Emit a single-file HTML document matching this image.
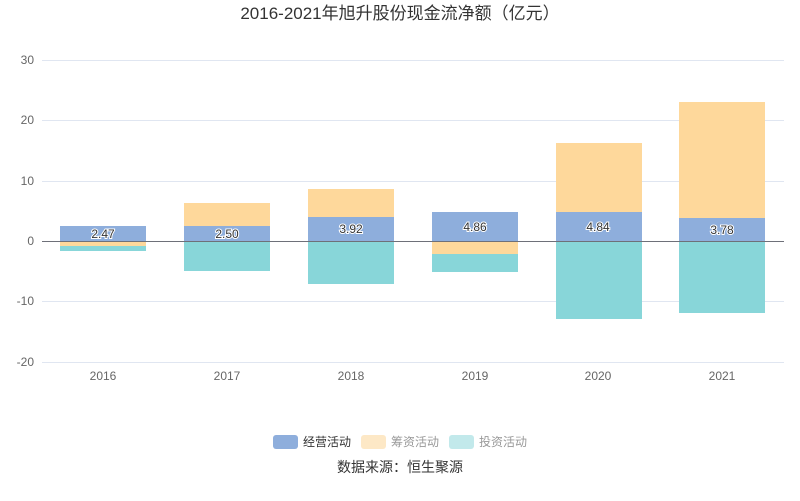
<!DOCTYPE html>
<html><head><meta charset="utf-8"><style>body{margin:0;background:#fff}svg{display:block;font-family:"Liberation Sans","Noto Sans CJK SC",sans-serif}</style></head><body>
<svg width="800" height="501" viewBox="0 0 800 501">
<text x="400" y="19" text-anchor="middle" font-size="17" fill="#333">2016-2021年旭升股份现金流净额（亿元）</text>
<g stroke="#e0e6f1" stroke-width="1">
<line x1="42" x2="784" y1="60.5" y2="60.5"/><line x1="42" x2="784" y1="120.5" y2="120.5"/><line x1="42" x2="784" y1="181.5" y2="181.5"/><line x1="42" x2="784" y1="301.5" y2="301.5"/><line x1="42" x2="784" y1="362.5" y2="362.5"/>
</g>
<g font-size="12" fill="#666" text-anchor="end">
<text x="34" y="64">30</text><text x="34" y="124">20</text><text x="34" y="185">10</text><text x="34" y="245">0</text><text x="34" y="305">-10</text><text x="34" y="366">-20</text>
</g>
<g font-size="12" fill="#666" text-anchor="middle">
<text x="103" y="380">2016</text><text x="227" y="380">2017</text><text x="351" y="380">2018</text><text x="475" y="380">2019</text><text x="598" y="380">2020</text><text x="722" y="380">2021</text>
</g>
<g>
<!-- 2016 -->
<rect x="60" y="226" width="86" height="15" fill="#8eaedc"/>
<rect x="60" y="241" width="86" height="5" fill="#fed89b"/>
<rect x="60" y="246" width="86" height="5" fill="#88d6d9"/>
<!-- 2017 -->
<rect x="184" y="226" width="86" height="15" fill="#8eaedc"/>
<rect x="184" y="203" width="86" height="23" fill="#fed89b"/>
<rect x="184" y="241" width="86" height="30" fill="#88d6d9"/>
<!-- 2018 -->
<rect x="308" y="217" width="86" height="24" fill="#8eaedc"/>
<rect x="308" y="189" width="86" height="28" fill="#fed89b"/>
<rect x="308" y="241" width="86" height="43" fill="#88d6d9"/>
<!-- 2019 -->
<rect x="432" y="212" width="86" height="29" fill="#8eaedc"/>
<rect x="432" y="241" width="86" height="13" fill="#fed89b"/>
<rect x="432" y="254" width="86" height="18" fill="#88d6d9"/>
<!-- 2020 -->
<rect x="556" y="212" width="86" height="29" fill="#8eaedc"/>
<rect x="556" y="143" width="86" height="69" fill="#fed89b"/>
<rect x="556" y="241" width="86" height="78" fill="#88d6d9"/>
<!-- 2021 -->
<rect x="679" y="218" width="86" height="23" fill="#8eaedc"/>
<rect x="679" y="102" width="86" height="116" fill="#fed89b"/>
<rect x="679" y="241" width="86" height="72" fill="#88d6d9"/>
</g>
<line x1="42" x2="784" y1="241.5" y2="241.5" stroke="#6e7079"/>
<g font-size="12" fill="#333" text-anchor="middle" stroke="#fff" stroke-width="2" paint-order="stroke">
<text x="103" y="238">2.47</text><text x="227" y="238">2.50</text><text x="351" y="233">3.92</text><text x="475" y="231">4.86</text><text x="598" y="231">4.84</text><text x="722" y="234">3.78</text>
</g>
<g font-size="12">
<rect x="273" y="435" width="25" height="14" rx="3" fill="#8eaedc"/><text x="303" y="446" fill="#333">经营活动</text>
<rect x="361" y="435" width="25" height="14" rx="3" fill="#fde8c6"/><text x="391" y="446" fill="#999">筹资活动</text>
<rect x="449" y="435" width="25" height="14" rx="3" fill="#c2e9eb"/><text x="479" y="446" fill="#999">投资活动</text>
</g>
<text x="400" y="472" text-anchor="middle" font-size="14" fill="#333">数据来源：恒生聚源</text>
</svg>
</body></html>
